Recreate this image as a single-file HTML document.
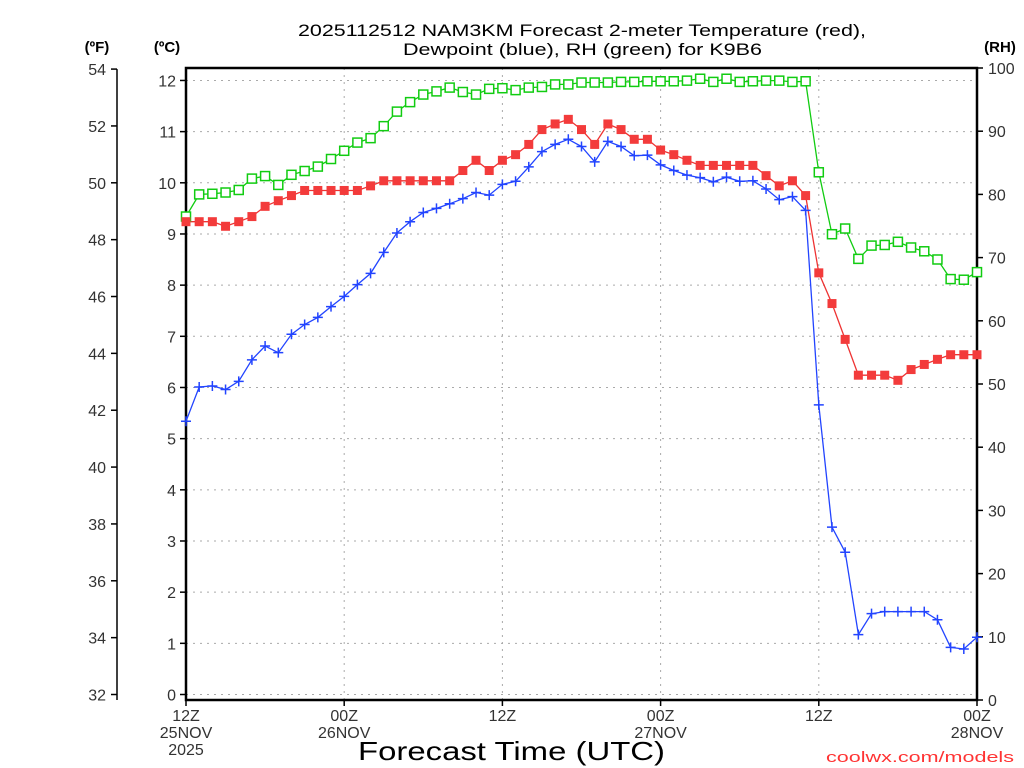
<!DOCTYPE html>
<html><head><meta charset="utf-8"><style>
html,body{margin:0;padding:0;background:#fff;}
svg{display:block;font-family:"Liberation Sans",sans-serif;}
</style></head><body>
<svg id="chart" width="1024" height="768" viewBox="0 0 1024 768" xmlns="http://www.w3.org/2000/svg">
<g id="grid"></g>
<g id="axes"></g>
<g id="series"></g>
<text x="298" y="36" font-size="17" textLength="568" lengthAdjust="spacingAndGlyphs" fill="#000">2025112512 NAM3KM Forecast 2-meter Temperature (red),</text>
<text x="403" y="55" font-size="17" textLength="359" lengthAdjust="spacingAndGlyphs" fill="#000">Dewpoint (blue), RH (green) for K9B6</text>
<text x="97" y="52" font-size="15" font-weight="bold" text-anchor="middle">(ºF)</text>
<text x="167" y="52" font-size="15" font-weight="bold" text-anchor="middle">(ºC)</text>
<text x="1000" y="52" font-size="15" font-weight="bold" text-anchor="middle">(RH)</text>
<text x="358" y="760" font-size="26" textLength="307" lengthAdjust="spacingAndGlyphs">Forecast Time (UTC)</text>
<text x="826" y="762" font-size="15" textLength="188" lengthAdjust="spacingAndGlyphs" fill="#ff3333">coolwx.com/models</text>
</svg>
<script>
const hours = [];
for (let h = 0; h <= 60; h++) hours.push(h);
const tempC = [9.24,9.24,9.24,9.15,9.24,9.34,9.54,9.65,9.75,9.85,9.85,9.85,9.85,9.85,9.94,10.04,10.04,10.04,10.04,10.04,10.04,10.24,10.44,10.24,10.44,10.55,10.75,11.04,11.15,11.24,11.04,10.75,11.15,11.04,10.85,10.85,10.64,10.55,10.44,10.34,10.34,10.34,10.34,10.34,10.14,9.94,10.04,9.75,8.24,7.64,6.94,6.24,6.24,6.24,6.14,6.35,6.45,6.55,6.64,6.64,6.64];
const dewC = [5.34,6.01,6.03,5.96,6.12,6.54,6.81,6.68,7.04,7.23,7.37,7.58,7.78,8.01,8.23,8.64,9.02,9.24,9.42,9.50,9.59,9.69,9.81,9.76,9.97,10.03,10.31,10.61,10.75,10.85,10.71,10.41,10.81,10.71,10.53,10.54,10.35,10.24,10.15,10.10,10.02,10.11,10.03,10.04,9.88,9.67,9.73,9.46,5.66,3.27,2.78,1.17,1.58,1.62,1.62,1.62,1.62,1.46,0.92,0.89,1.12];
const rhPct = [76.5,80.0,80.1,80.3,80.7,82.5,82.9,81.5,83.1,83.7,84.4,85.6,86.9,88.2,88.9,90.8,93.1,94.6,95.8,96.3,96.9,96.2,95.8,96.7,96.8,96.5,96.9,97.0,97.4,97.4,97.7,97.7,97.7,97.8,97.8,97.9,97.9,97.9,98.0,98.3,97.8,98.3,97.8,97.9,98.0,98.0,97.8,97.9,83.5,73.7,74.6,69.8,71.9,72.0,72.5,71.6,71.0,69.7,66.6,66.5,67.7];
const fTicks = [32,34,36,38,40,42,44,46,48,50,52,54];
const cTicks = [0,1,2,3,4,5,6,7,8,9,10,11,12];
const rhTicks = [0,10,20,30,40,50,60,70,80,90,100];
const xTickHours = [0,12,24,36,48,60];
const xTickLabels = [["12Z","25NOV","2025"],["00Z","26NOV"],["12Z"],["00Z","27NOV"],["12Z"],["00Z","28NOV"]];

const L=186,R=977,T=68,B=700;
const xS = h => L + (R-L)*h/60;
const cS = c => 694.5 - c*51.17;
const fS = f => cS((f-32)*5/9);
const rS = r => B - (B-T)*r/100;
const NS="http://www.w3.org/2000/svg";
function mk(tag, parent, attrs){const e=document.createElementNS(NS,tag);for(const k in attrs)e.setAttribute(k,attrs[k]);parent.appendChild(e);return e;}
const grid=document.getElementById('grid'), axes=document.getElementById('axes'), ser=document.getElementById('series');

cTicks.forEach(c=>{
  const y=cS(c);
  const g=mk('line',grid,{x1:L,x2:R,y1:y,y2:y,stroke:'#aaa','stroke-dasharray':'2,5','stroke-width':1});
  
  
  const t=mk('line',axes,{x1:L-6,x2:L,y1:y,y2:y,stroke:'#000','stroke-width':1.5});
  
  
  const lb=mk('text',axes,{x:L-10,y:y+6,'font-size':16,'text-anchor':'end',fill:'#333'});
  lb.textContent=c;
  
  
});
xTickHours.forEach((h,i)=>{
  const x=xS(h);
  if(h>0&&h<60){const g=mk('line',grid,{x1:x,x2:x,y1:T,y2:B,stroke:'#aaa','stroke-dasharray':'2,5','stroke-width':1});
  
  }
  const t=mk('line',axes,{x1:x,x2:x,y1:B,y2:B+6,stroke:'#000','stroke-width':1.5});
  
  
  xTickLabels[i].forEach((s,j)=>{
    const lb=mk('text',axes,{x:x,y:B+21+j*17,'font-size':16,'text-anchor':'middle',fill:'#333'});
    lb.textContent=s;
    
    
  });
});
const fl=mk('line',axes,{x1:117,x2:117,y1:fS(54),y2:B,stroke:'#000','stroke-width':1.5});


fTicks.forEach(f=>{
  const y=fS(f);
  const t=mk('line',axes,{x1:111,x2:117,y1:y,y2:y,stroke:'#000','stroke-width':1.5});
  
  
  const lb=mk('text',axes,{x:106,y:y+6,'font-size':16,'text-anchor':'end',fill:'#333'});
  lb.textContent=f;
  
  
});
rhTicks.forEach(r=>{
  const y=rS(r);
  const t=mk('line',axes,{x1:R,x2:R+6,y1:y,y2:y,stroke:'#000','stroke-width':1.5});
  
  
  const lb=mk('text',axes,{x:R+11,y:y+6,'font-size':16,'text-anchor':'start',fill:'#333'});
  lb.textContent=r;
  
  
});
const fr=mk('rect',axes,{x:L,y:T,width:R-L,height:B-T,fill:'none',stroke:'#000','stroke-width':2.5});



function line(vals, sc, color, name){
  const pts=vals.map((v,i)=>xS(hours[i]).toFixed(1)+','+sc(v).toFixed(1)).join(' ');
  const p=mk('polyline',ser,{points:pts,fill:'none',stroke:color,'stroke-width':1.3});
  
  
}
line(rhPct,rS,'#11cc11','rh-line');
line(tempC,cS,'#ee3333','temperature-line');
line(dewC,cS,'#2244ff','dewpoint-line');
rhPct.forEach((v,i)=>{
  const x=xS(hours[i]),y=rS(v);
  const m=mk('rect',ser,{x:x-4.5,y:y-4.5,width:9,height:9,fill:'#fff',stroke:'#11cc11','stroke-width':1.5});
  
  
});
tempC.forEach((v,i)=>{
  const x=xS(hours[i]),y=cS(v);
  const m=mk('rect',ser,{x:x-4.5,y:y-4.5,width:9,height:9,fill:'#f33b3b'});
  
  
});
dewC.forEach((v,i)=>{
  const x=xS(hours[i]),y=cS(v);
  const m=mk('path',ser,{d:`M${x-5},${y}H${x+5}M${x},${y-5}V${y+5}`,stroke:'#2244ff','stroke-width':1.5});
  
  
});
</script>
</body></html>
